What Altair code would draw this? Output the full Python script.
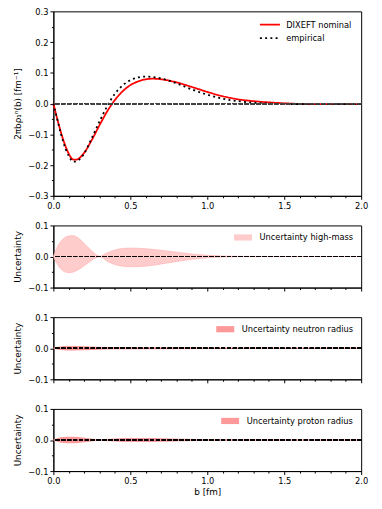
import altair as alt
import pandas as pd

# ---------------- data ----------------
b_main = [0, 0.02, 0.05, 0.08, 0.10, 0.13, 0.15, 0.18, 0.20, 0.25, 0.30, 0.35, 0.40, 0.45,
          0.50, 0.55, 0.60, 0.65, 0.70, 0.80, 0.90, 1.00, 1.10, 1.20, 1.30, 1.40, 1.50, 1.60,
          1.80, 2.00]
dixeft_nominal = [0, -0.040, -0.095, -0.140, -0.163, -0.182, -0.182, -0.172, -0.160, -0.118,
                  -0.070, -0.025, 0.012, 0.040, 0.060, 0.072, 0.079, 0.081, 0.079, 0.069,
                  0.054, 0.038, 0.024, 0.014, 0.008, 0.004, 0.001, -0.001, -0.002, -0.002]
empirical = [0, -0.040, -0.100, -0.148, -0.170, -0.189, -0.188, -0.176, -0.162, -0.112,
             -0.058, -0.008, 0.032, 0.059, 0.076, 0.085, 0.088, 0.086, 0.082, 0.066,
             0.046, 0.029, 0.016, 0.008, 0.003, 0.000, -0.001, -0.002, -0.002, -0.002]

b_band = [0, 0.03, 0.06, 0.10, 0.13, 0.16, 0.20, 0.25, 0.30, 0.35, 0.40, 0.45, 0.50, 0.60,
          0.70, 0.80, 0.90, 1.00, 1.10, 1.20, 1.50, 2.00]
highmass_upper = [0, 0.035, 0.055, 0.066, 0.067, 0.060, 0.042, 0.018, 0.001, 0.012, 0.021,
                  0.026, 0.027, 0.025, 0.020, 0.014, 0.008, 0.004, 0.0015, 0.0005, 0, 0]
highmass_lower = [0, -0.028, -0.045, -0.052, -0.050, -0.043, -0.030, -0.012, -0.001, -0.015,
                  -0.026, -0.031, -0.033, -0.031, -0.024, -0.016, -0.009, -0.004, -0.0015,
                  -0.0005, 0, 0]
neutron_upper = [0, 0.003, 0.005, 0.006, 0.006, 0.0055, 0.005, 0.004, 0.003, 0.0025, 0.002,
                 0.002, 0.002, 0.0018, 0.0016, 0.0014, 0.0012, 0.001, 0.001, 0.0008, 0.0006,
                 0.0005]
neutron_lower = [-v for v in neutron_upper]
proton_upper = [0, 0.005, 0.008, 0.009, 0.009, 0.008, 0.006, 0.003, 0.0004, 0.002, 0.0035,
                0.0045, 0.005, 0.005, 0.004, 0.003, 0.002, 0.001, 0.0005, 0.0002, 0, 0]
proton_lower = [-v for v in proton_upper]

series_names = ["DIXEFT nominal", "empirical"]
band_labels = ["Uncertainty high-mass", "Uncertainty neutron radius", "Uncertainty proton radius"]

x_ticks = [round(i * 0.1, 1) for i in range(21)]
y_ticks_top = [round(-0.3 + i * 0.05, 2) for i in range(13)]
y_ticks_low = [-0.1, -0.05, 0.0, 0.05, 0.1]

# ---------------- tables ----------------
lines_df = pd.DataFrame({
    "b": b_main * 2,
    "value": dixeft_nominal + empirical,
    "series": [series_names[0]] * len(b_main) + [series_names[1]] * len(b_main),
})

def band_df(upper, lower, label):
    return pd.DataFrame({"b": b_band, "upper": upper, "lower": lower, "label": [label] * len(b_band)})

W = 312
H_TOP = 187
H_LOW = 63
FS = 8.4

X_MAJOR = "abs(datum.value*2 - round(datum.value*2)) < 1e-6"
Y_MAJOR = "abs(datum.value*10 - round(datum.value*10)) < 1e-6"

def x_axis(show_labels):
    return alt.Axis(
        values=x_ticks, format=".1f", labelExpr=f"({X_MAJOR}) ? datum.label : ''",
        tickSize={"condition": {"test": X_MAJOR, "value": 3.5}, "value": 2},
        labelOpacity=1 if show_labels else 0, labelFlush=False, labelOverlap=False,
        grid=False, labelPadding=2, titlePadding=3,
    )

def y_axis(vals):
    return alt.Axis(
        values=vals, format=".1f", labelExpr=f"({Y_MAJOR}) ? datum.label : ''",
        tickSize={"condition": {"test": Y_MAJOR, "value": 3.5}, "value": 2},
        labelFlush=False, labelOverlap=False, grid=False, labelPadding=2, titlePadding=5,
    )

x_scale = alt.Scale(domain=[0, 2], nice=False, zero=False)
y_scale_top = alt.Scale(domain=[-0.3, 0.3], nice=False)
y_scale_low = alt.Scale(domain=[-0.1, 0.1], nice=False)
top_title = "2πbρ₁ⁿ(b) [fm⁻¹]"

line_symbol = "M-2.9,0L2.9,0"
rect_symbol = "M-2.6,-0.9L2.6,-0.9L2.6,0.9L-2.6,0.9Z"

# ---------------- top panel ----------------
leg_top = alt.Legend(title=None, orient="none", legendX=215, legendY=9, symbolType=line_symbol,
                     symbolSize=49, symbolStrokeWidth=1.8, labelOffset=12, rowPadding=4.7)
lines = alt.Chart(lines_df).mark_line(strokeWidth=1.8, interpolate="monotone", strokeCap="butt").encode(
    x=alt.X("b:Q", scale=x_scale, axis=x_axis(True), title=None),
    y=alt.Y("value:Q", scale=y_scale_top, axis=y_axis(y_ticks_top), title=top_title),
    color=alt.Color("series:N", scale=alt.Scale(domain=series_names, range=["#ff0000", "#000000"]),
                    legend=leg_top),
    strokeDash=alt.StrokeDash("series:N", scale=alt.Scale(domain=series_names, range=[[1, 0], [2, 3.3]]),
                              legend=leg_top),
    order=alt.Order("series:N"),
)
zero_top = alt.Chart(lines_df).mark_rule(color="#444444", strokeDash=[4, 2], strokeWidth=1).encode(
    y=alt.Y(datum=0, scale=y_scale_top, axis=y_axis(y_ticks_top), title=top_title)
)
top = alt.layer(lines, zero_top).properties(width=W, height=H_TOP)

# ---------------- band panels ----------------
def band_panel(df, fill, stroke, show_labels, title=None):
    leg = alt.Legend(title=None, orient="top-right", offset=8, symbolType=rect_symbol,
                     symbolSize=49, labelOffset=12.5, symbolStrokeWidth=0)
    area = alt.Chart(df).mark_area(interpolate="monotone", stroke=stroke, strokeWidth=0.7,
                                   opacity=1).encode(
        x=alt.X("b:Q", scale=x_scale, axis=x_axis(show_labels), title=title),
        y=alt.Y("upper:Q", scale=y_scale_low, axis=y_axis(y_ticks_low), title="Uncertainty"),
        y2="lower:Q",
        color=alt.Color("label:N", scale=alt.Scale(range=[fill]), legend=leg),
    )
    zero = alt.Chart(df).mark_rule(color="#000000", strokeDash=[4, 2], strokeWidth=1).encode(
        y=alt.Y(datum=0, scale=y_scale_low, axis=y_axis(y_ticks_low), title="Uncertainty")
    )
    return alt.layer(area, zero).properties(width=W, height=H_LOW)

p2 = band_panel(band_df(highmass_upper, highmass_lower, band_labels[0]), "#ffcccc", "#ffb3b3", False)
p3 = band_panel(band_df(neutron_upper, neutron_lower, band_labels[1]), "#ff9999", "#ff8080", False)
p4 = band_panel(band_df(proton_upper, proton_lower, band_labels[2]), "#ff9999", "#ff8080", True, "b [fm]")

chart = alt.vconcat(top, p2, p3, p4, spacing=10).resolve_scale(
    color="independent", strokeDash="independent"
).properties(
    padding={"left": 5, "top": -5, "right": 5, "bottom": 5}
).configure(
    font="DejaVu Sans",
).configure_axis(
    labelFont="DejaVu Sans", labelFontSize=FS, titleFont="DejaVu Sans", titleFontSize=9,
    titleFontWeight="normal", labelColor="#000000", titleColor="#000000",
    domainColor="#000000", tickColor="#000000", domainWidth=1, tickWidth=1,
).configure_legend(
    labelFont="DejaVu Sans", labelFontSize=FS, labelColor="#000000", padding=0,
).configure_view(
    stroke="#000000", strokeWidth=1,
)

chart.save("out.html", embed_options={"renderer": "svg", "actions": False})
